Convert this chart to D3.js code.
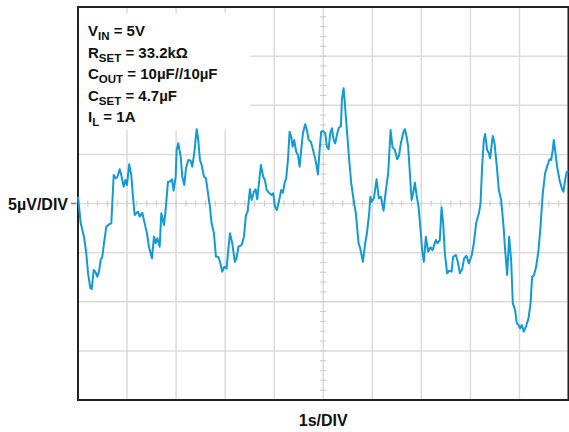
<!DOCTYPE html>
<html>
<head>
<meta charset="utf-8">
<script src="https://cdn.jsdelivr.net/npm/d3@7"></script>
<style>
  html, body { margin: 0; padding: 0; background: #fff; }
  svg { display: block; }
  text { font-family: "Liberation Sans", Arial, sans-serif; font-weight: bold; fill: #111; }
</style>
</head>
<body>
<svg id="chart" width="569" height="432"></svg>
<script>
// Time in seconds (1 s/DIV, 10 divisions)
const timeS = [
  0.000,0.055,0.122,0.169,0.204,0.251,0.279,0.320,0.353,0.393,0.428,0.463,0.495,0.530,0.577,0.632,0.679,0.728,0.768,0.801,
  0.850,0.882,0.931,0.964,0.999,1.043,1.086,1.121,1.155,1.188,1.223,1.257,1.310,1.359,1.406,1.447,1.508,1.549,1.583,1.616,
  1.665,1.698,1.753,1.787,1.834,1.875,1.916,1.950,1.991,2.011,2.044,2.093,2.126,2.166,2.201,2.248,2.297,2.329,2.370,2.419,
  2.452,2.486,2.521,2.568,2.608,2.655,2.690,2.724,2.771,2.812,2.859,2.894,2.941,2.981,3.030,3.063,3.098,3.145,3.198,3.230,
  3.271,3.336,3.383,3.424,3.458,3.505,3.540,3.587,3.621,3.654,3.689,3.729,3.776,3.811,3.846,3.892,3.947,3.980,4.015,4.055,
  4.102,4.143,4.178,4.212,4.245,4.280,4.314,4.347,4.375,4.408,4.449,4.483,4.518,4.551,4.585,4.632,4.667,4.702,4.748,4.783,
  4.824,4.856,4.891,4.926,4.958,4.993,5.040,5.074,5.109,5.142,5.176,5.211,5.244,5.278,5.313,5.360,5.380,5.415,5.435,5.482,
  5.529,5.570,5.619,5.665,5.720,5.753,5.808,5.855,5.890,5.936,5.961,5.985,6.032,6.087,6.134,6.175,6.230,6.277,6.324,6.373,
  6.413,6.460,6.507,6.548,6.582,6.629,6.664,6.699,6.731,6.766,6.801,6.833,6.868,6.902,6.943,6.984,7.016,7.051,7.092,7.139,
  7.188,7.229,7.261,7.296,7.330,7.377,7.412,7.445,7.479,7.526,7.567,7.616,7.648,7.703,7.750,7.785,7.832,7.872,7.921,7.968,
  8.029,8.070,8.117,8.172,8.207,8.239,8.274,8.300,8.341,8.376,8.402,8.437,8.457,8.492,8.539,8.580,8.627,8.676,8.708,8.749,
  8.790,8.830,8.865,8.912,8.946,8.981,9.014,9.048,9.089,9.136,9.185,9.226,9.258,9.293,9.340,9.389,9.429,9.476,9.523,9.564,
  9.613,9.646,9.680,9.700,9.735,9.768,9.817,9.864,9.898,9.931,9.965,10.000
];
// Output noise in µV (5 µV/DIV)
const noiseUV = [
  0.69,-1.99,-3.38,-5.04,-7.08,-8.60,-8.71,-6.77,-6.94,-7.45,-6.94,-5.75,-5.42,-4.05,-2.36,-2.12,-2.02,2.90,2.57,2.67,
  3.48,2.90,1.71,2.39,1.88,3.99,2.90,0.69,-1.17,-1.00,-0.83,-1.34,-0.94,-2.02,-3.03,-4.40,-5.58,-3.38,-4.05,-3.54,
  -4.40,-1.00,-2.19,-0.66,2.22,2.22,2.46,1.30,2.73,5.45,6.13,4.77,2.73,1.88,3.58,4.43,4.36,3.75,5.11,7.56,
  6.47,4.43,3.92,2.73,2.57,0.87,-0.32,-2.02,-3.03,-5.42,-5.42,-5.93,-6.94,-6.44,-6.60,-4.74,-3.03,-4.05,-5.93,-5.58,
  -4.40,-4.23,-3.38,-1.17,-0.83,1.45,0.36,1.20,1.45,0.43,2.06,3.92,2.73,2.39,1.37,1.10,0.87,1.04,-0.33,-0.66,
  0.36,1.37,1.10,2.06,2.57,4.43,7.31,6.80,5.78,6.47,5.27,4.94,3.75,5.45,7.15,8.07,7.48,6.47,6.29,5.62,
  4.77,4.09,2.97,5.45,7.31,7.38,7.15,5.78,5.52,7.15,7.66,6.47,6.13,6.98,7.66,7.89,10.54,11.73,10.54,7.48,
  4.43,2.06,0.36,-1.00,-4.05,-4.56,-5.93,-4.05,-3.03,-1.00,0.69,0.18,0.53,2.46,0.53,0.69,-0.73,1.37,3.08,7.48,
  5.72,5.45,4.50,4.94,6.13,7.15,7.56,6.80,5.78,3.08,0.36,1.04,2.12,0.87,-0.33,-2.70,-4.74,-5.93,-3.38,-4.91,
  -4.46,-4.74,-4.23,-3.72,-4.05,-3.72,-0.39,-2.02,-5.07,-7.11,-6.84,-6.94,-5.42,-5.24,-6.09,-7.11,-6.70,-5.58,-5.32,-6.09,
  -5.24,-4.05,-2.02,-1.00,0.02,3.75,6.47,7.08,5.45,5.11,4.60,6.13,6.87,6.13,3.75,1.37,0.36,-2.36,-4.74,-7.28,
  -3.38,-5.75,-10.16,-10.85,-12.20,-12.37,-12.71,-12.37,-13.05,-12.47,-11.69,-10.16,-7.45,-7.35,-6.44,-4.74,-2.36,1.04,3.08,3.75,
  4.50,4.43,5.45,6.47,5.11,3.75,2.39,1.55,1.20,2.39,3.24,3.24
];
// Division grid (time in s, voltage in µV)
const xDivs = [0,1,2,3,4,5,6,7,8,9,10];
const yDivs = [-20,-15,-10,-5,0,5,10,15,20];
const yLabel = "5µV/DIV";
const xLabel = "1s/DIV";
const legendLines = [
  ["V", "IN", " = 5V"],
  ["R", "SET", " = 33.2kΩ"],
  ["C", "OUT", " = 10µF//10µF"],
  ["C", "SET", " = 4.7µF"],
  ["I", "L", " = 1A"]
];

const svg = d3.select("#chart");
const L = 78, R = 568.5, T = 7, B = 400;
const x = d3.scaleLinear().domain([0, 10]).range([L, R]);
const y = d3.scaleLinear().domain([-20, 20]).range([B, T]);

// grid
const grid = svg.append("g");
grid.selectAll("line.v").data(xDivs).join("line")
  .attr("x1", d => x(d)).attr("x2", d => x(d)).attr("y1", T).attr("y2", B)
  .attr("stroke", "#dcdcdc").attr("stroke-width", 1.5);
grid.selectAll("line.h").data(yDivs).join("line")
  .attr("y1", d => y(d)).attr("y2", d => y(d)).attr("x1", L).attr("x2", R)
  .attr("stroke", "#dcdcdc").attr("stroke-width", 1.5);

// legend background
svg.append("rect").attr("x", L + 1).attr("y", 13).attr("width", 171).attr("height", 117).attr("fill", "#fff");

// minor ticks on center lines
const xMinor = d3.range(0, 10.001, 0.2);
const yMinor = d3.range(-20, 20.001, 1);
svg.append("g").selectAll("line").data(xMinor).join("line")
  .attr("x1", d => x(d)).attr("x2", d => x(d)).attr("y1", y(0) - 3).attr("y2", y(0) + 3)
  .attr("stroke", "#c8c8c8").attr("stroke-width", 1);
svg.append("g").selectAll("line").data(yMinor).join("line")
  .attr("y1", d => y(d)).attr("y2", d => y(d)).attr("x1", x(5) - 3).attr("x2", x(5) + 3)
  .attr("stroke", "#c8c8c8").attr("stroke-width", 1);

// frame
svg.append("rect").attr("x", L).attr("y", T).attr("width", R - L).attr("height", B - T)
  .attr("fill", "none").attr("stroke", "#222").attr("stroke-width", 2);

// reference marker
svg.append("line").attr("x1", 71).attr("x2", 76.5).attr("y1", y(0)).attr("y2", y(0))
  .attr("stroke", "#d0607e").attr("stroke-width", 1.5);

// trace
const pts = timeS.map((t, i) => [t, noiseUV[i]]);
svg.append("path").datum(pts)
  .attr("fill", "none").attr("stroke", "#129ad4").attr("stroke-width", 2)
  .attr("stroke-linejoin", "round")
  .attr("d", d3.line().x(d => x(d[0])).y(d => y(d[1])));

// labels
svg.append("text").attr("x", 68).attr("y", y(0) + 6).attr("text-anchor", "end")
  .attr("font-size", 16).text(yLabel);
svg.append("text").attr("x", x(5)).attr("y", 426).attr("text-anchor", "middle")
  .attr("font-size", 16).text(xLabel);

// legend
const lg = svg.append("g");
legendLines.forEach((ln, i) => {
  const t = lg.append("text").attr("x", 88).attr("y", 36 + i * 21.6).attr("font-size", 15);
  t.append("tspan").text(ln[0]);
  t.append("tspan").attr("font-size", 11.5).attr("dy", 4).text(ln[1]);
  t.append("tspan").attr("dy", -4).text(ln[2]);
});
</script>
</body>
</html>
